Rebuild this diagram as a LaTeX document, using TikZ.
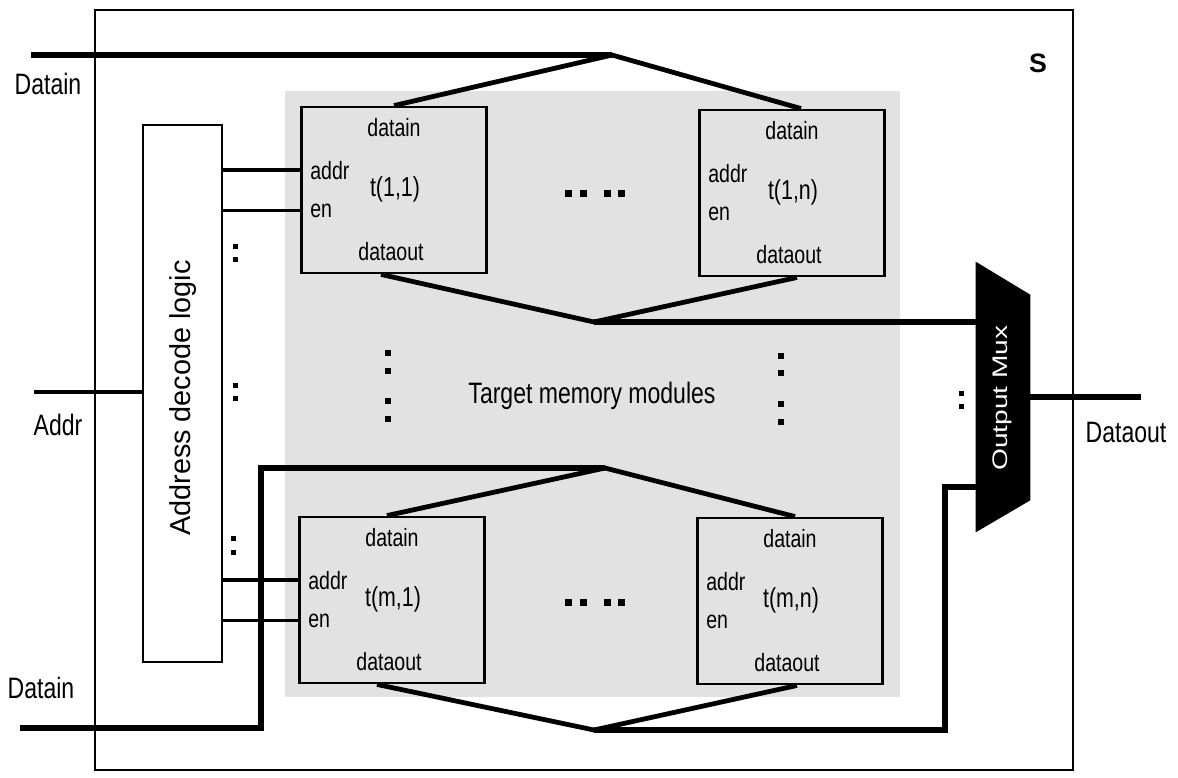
\documentclass[tikz,border=0pt]{standalone}
\usepackage{fontspec}
\setmainfont{Liberation Sans}[FakeStretch=0.78]
\newfontfamily\rotfont{Liberation Sans}
\usetikzlibrary{calc}
\definecolor{ModGray}{RGB}{226,226,226}

\begin{document}
\begin{tikzpicture}[x=0.025cm,y=-0.025cm,
  bus/.style={line width=4.6pt},
  diag/.style={line width=3.4pt},
  adrw/.style={line width=3pt},
  enw/.style={line width=1.6pt},
  tbox/.style={draw,line width=2pt,minimum width=4.625cm,minimum height=4.15cm,inner sep=0pt},
  plbl/.style={inner sep=0pt,font=\fontsize{17.8}{20}\selectfont},
  tlbl/.style={inner sep=0pt,anchor=base,font=\fontsize{19.5}{22}\selectfont},
  biglbl/.style={inner sep=0pt,anchor=base,font=\fontsize{21}{24}\selectfont},
  dot/.style={fill=black},
]
\useasboundingbox (0,0) rectangle (1178,777);
% shaded module area and outer frame
\fill[ModGray] (285,91) rectangle (900,697);
\node[draw,line width=1.3pt,minimum width=24.45cm,minimum height=19cm,inner sep=0pt] (sbox) at (584,390) {};
\node[inner sep=0pt,anchor=base,font=\rotfont\bfseries\fontsize{19}{22}\selectfont] (slbl) at (1038,72) {S};
% address decoder
\node[draw,line width=1.6pt,fill=white,minimum width=1.975cm,minimum height=13.425cm,inner sep=0pt] (dec) at (182.5,393.5) {};
\node[rotate=90,inner sep=0pt,font=\rotfont\fontsize{20.5}{24}\selectfont] (declbl) at (183,398) {Address decode logic};
% memory modules
\foreach \nm/\cx/\cy/\lbl in {t11/394/190/{t(1,1)},t1n/792/193/{t(1,n)},tm1/392/600/{t(m,1)},tmn/790/601/{t(m,n)}}{
  \node[tbox] (\nm) at (\cx,\cy) {};
  \node[plbl,anchor=base] (\nm-din) at ($(\nm.center)+(0,-54)$) {datain};
  \node[plbl,anchor=base west] (\nm-adr) at ($(\nm.west)+(10,-11)$) {addr};
  \node[plbl,anchor=base west] (\nm-en) at ($(\nm.west)+(10,27)$) {en};
  \node[tlbl] (\nm-lbl) at ($(\nm.center)+(1,6)$) {\lbl};
  \node[plbl,anchor=base] (\nm-dout) at ($(\nm.center)+(-3,70)$) {dataout};
}
\node[biglbl] (tgt) at (592,403) {Target memory modules};
% output mux
\node[minimum width=1.35cm,minimum height=6.75cm,inner sep=0pt] (mux) at (1003,397) {};
\fill (mux.north west) -- ($(mux.north east)+(0,33)$) -- ($(mux.south east)+(0,-32)$) -- (mux.south west) -- cycle;
\node[rotate=90,text=white,inner sep=0pt,font=\rotfont\fontsize{20}{22}\selectfont] (muxlbl) at (1002,398) {\scalebox{1}[0.75]{Output Mux}};
% outer labels
\node[biglbl] (dinTl) at (48,94) {Datain};
\node[biglbl] (ainl) at (58,435) {Addr};
\node[biglbl] (dinBl) at (41,698) {Datain};
\node[biglbl] (doutl) at (1126,442) {Dataout};
% free ends and junctions
\coordinate (dinT) at (31,55);
\coordinate (apT) at (612,55);
\coordinate (apM) at (594,322);
\coordinate (dinB) at (20,728);
\coordinate (apL) at (605,468);
\coordinate (apB) at (594,730);
\coordinate (bendB) at (945,730);
\coordinate (ain) at (34,392);
\coordinate (dout) at (1141,397);
% data in, top row
\draw[bus] (dinT) -- (apT);
\draw[diag] (t11.north) -- (apT) -- ($(t1n.north)+(9,0)$);
\draw[diag] ($(t11.south)+(-13,0)$) -- (apM) -- ($(t1n.south)+(5,0)$);
\draw[bus] (apM) -- (apM -| mux.west);
% data in, bottom row
\draw[bus] (dinB) -- ++(241,0) |- (apL);
\draw[diag] ($(tm1.north)+(-5,0)$) -- (apL) -- ($(tmn.north)+(5,0)$);
\draw[diag] ($(tm1.south)+(-15,0)$) -- (apB) -- ($(tmn.south)+(7,0)$);
\draw[bus] (apB) -- (bendB) |- ($(mux.west)+(0,90)$);
\draw[bus] (mux.east) -- (dout);
% address and enables
\draw[adrw] (ain) -- (ain -| dec.west);
\draw[adrw] (t11-adr -| dec.east) -- (t11-adr -| t11.west);
\draw[enw] (t11-en -| dec.east) -- (t11-en -| t11.west);
\draw[adrw] (tm1-adr -| dec.east) -- (tm1-adr -| tm1.west);
\draw[enw] (tm1-en -| dec.east) -- (tm1-en -| tm1.west);
% ellipsis dots
\foreach \x/\y/\s in {235/246/5,235/259/5,235/385/5,235/398/5,233/538/5,233/552/5,
  388/353/6,388/371/6,388/401/6,388/419/6,781/356/6,781/373/6,781/404/6,781/422/6,
  961/393/5,961/406/5,
  568/193/7,583/193/7,607/193/7,621/193/7,568/602/7,583/602/7,607/602/7,621/602/7}
  \fill[dot] ({\x-\s/2},{\y-\s/2}) rectangle ++(\s,\s);
\end{tikzpicture}
\end{document}
